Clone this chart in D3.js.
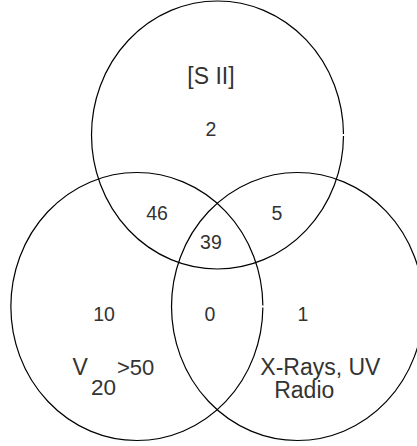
<!DOCTYPE html>
<html>
<head>
<meta charset="utf-8">
<script src="https://cdn.jsdelivr.net/npm/d3@7"></script>
<style>
  html, body { margin: 0; padding: 0; background: #fff; }
  svg { display: block; }
  text { font-family: "Liberation Sans", Arial, sans-serif; fill: #333; }
</style>
</head>
<body>
<div id="venn"></div>
<script>
// sets and region counts
const setKeys = ['S', 'V', 'X'];
const regionKeys = ['S', 'V', 'X', 'SV', 'SX', 'VX', 'SVX'];
const regionValues = [2, 10, 1, 46, 5, 0, 39];

// layout, in radius units (x: horizontal radius, y: vertical radius)
const layout = {
  centers: { S: [0, 0], V: [-0.64, 1.28], X: [0.635, 1.28] },
  regions: {
    S: [-0.052, 0.007], V: [-0.9, 1.388], X: [0.679, 1.388],
    SV: [-0.48, 0.634], SX: [0.472, 0.634], VX: [-0.06, 1.388],
    SVX: [-0.052, 0.851]
  }
};

const width = 417;
const height = 446;

const x = d3.scaleLinear().domain([0, 1]).range([217.5, 343.5]);
const y = d3.scaleLinear().domain([0, 1]).range([135, 269]);
const rx = x(1) - x(0);
const ry = y(1) - y(0);

const svg = d3.select('#venn').append('svg')
  .attr('width', width)
  .attr('height', height)
  .attr('viewBox', [0, 0, width, height]);

svg.append('g').selectAll('ellipse')
  .data(setKeys)
  .join('ellipse')
    .attr('cx', (d) => x(layout.centers[d][0]))
    .attr('cy', (d) => y(layout.centers[d][1]))
    .attr('rx', rx)
    .attr('ry', ry)
    .attr('pathLength', 1000)
    .attr('stroke-dasharray', '0 1.3 997.4 1.3')
    .attr('fill', 'none')
    .attr('stroke', '#000')
    .attr('stroke-width', 1.2);

svg.append('g').selectAll('text')
  .data(regionKeys)
  .join('text')
    .attr('x', (d) => x(layout.regions[d][0]))
    .attr('y', (d) => y(layout.regions[d][1]))
    .attr('text-anchor', 'middle')
    .attr('font-size', 19.5)
    .text((d, i) => regionValues[i]);

// set labels
const labels = svg.append('g').attr('font-size', 23);

labels.append('text')
  .attr('x', x(-0.052))
  .attr('y', y(-0.381))
  .attr('text-anchor', 'middle')
  .text('[S II]');

const v20 = labels.append('text')
  .attr('x', x(-1.15))
  .attr('y', y(1.79));
v20.append('tspan').text('V');
v20.append('tspan').attr('font-size', 22.5).attr('dx', 3).attr('dy', 20).text('20');
v20.append('tspan').attr('font-size', 22).attr('dx', 1).attr('dy', -20).text('>50');

labels.append('text')
  .attr('x', x(0.34))
  .attr('y', y(1.79))
  .text('X-Rays, UV');

labels.append('text')
  .attr('x', x(0.45))
  .attr('y', y(1.965))
  .text('Radio');
</script>
</body>
</html>
